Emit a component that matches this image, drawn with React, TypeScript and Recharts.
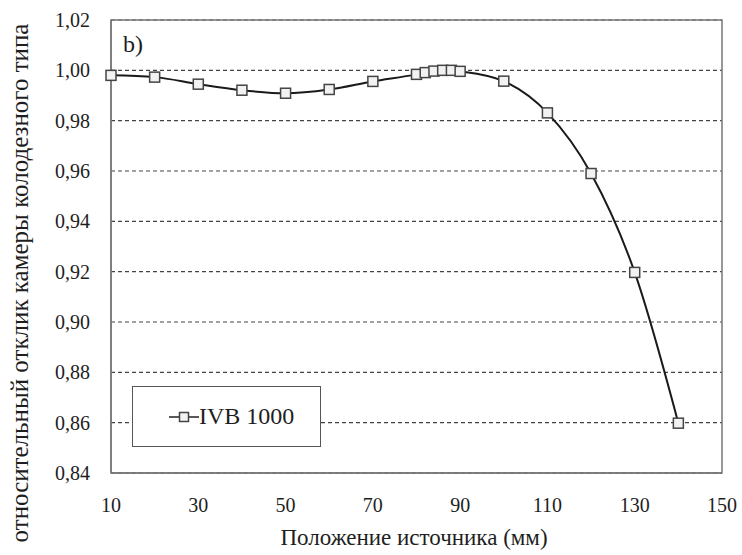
import React from 'react';
import { LineChart, Line, XAxis, YAxis, CartesianGrid, ReferenceArea, Legend, Label } from 'recharts';

const positions = [10, 20, 30, 40, 50, 60, 70, 80, 82, 84, 86, 88, 90, 100, 110, 120, 130, 140];
const responses = [0.998, 0.9973, 0.9945, 0.9921, 0.9909, 0.9924, 0.9956, 0.9984, 0.9991, 0.9997, 1.0, 1.0, 0.9996, 0.9957, 0.9831, 0.959, 0.9197, 0.8598];
const xTicks = [10, 30, 50, 70, 90, 110, 130, 150];
const yTicks = [0.84, 0.86, 0.88, 0.9, 0.92, 0.94, 0.96, 0.98, 1.0, 1.02];
const seriesName = 'IVB 1000';
const xTitle = 'Положение источника (мм)';
const yTitle = 'относительный отклик камеры колодезного типа';
const panelLabel = 'b)';

const data = positions.map((x, i) => ({ x, y: responses[i] }));

const FONT = "'Liberation Serif', 'Noto Serif', 'Nimbus Roman', 'FreeSerif', 'Tinos', 'DejaVu Serif', serif";
const TEXT = '#1e1e1e';

const SquareDot = (props: any) => {
  const { cx, cy, index } = props;
  if (cx == null || cy == null) return <g key={index} />;
  return (
    <rect key={index} x={cx - 5} y={cy - 5} width={10} height={10} fill="#f2f2f2" stroke="#444" strokeWidth={1.5} />
  );
};

const XTick = (props: any) => {
  const { x, y, payload } = props;
  return (
    <text x={x} y={y + 24} textAnchor="middle" dominantBaseline="central" style={{ fontFamily: FONT }} fontSize={20} fill={TEXT}>
      {payload.value}
    </text>
  );
};

const YTick = (props: any) => {
  const { x, y, payload } = props;
  return (
    <text x={x - 13} y={y} textAnchor="end" dominantBaseline="central" style={{ fontFamily: FONT }} fontSize={20} fill={TEXT}>
      {Number(payload.value).toFixed(2).replace('.', ',')}
    </text>
  );
};

const LegendContent = () => (
  <div style={{ display: 'flex', alignItems: 'center', height: '100%', fontFamily: FONT, fontSize: 24, color: TEXT }}>
    <svg width={30} height={14} style={{ marginLeft: 36 }}>
      <line x1={0} y1={7} x2={30} y2={7} stroke="#222" strokeWidth={1.5} />
      <rect x={10.5} y={2.5} width={9} height={9} fill="#f2f2f2" stroke="#444" strokeWidth={1.5} />
    </svg>
    <span>{seriesName}</span>
  </div>
);

export default function App() {
  return (
    <div style={{ position: 'absolute', left: 0, top: 0, width: 742, height: 555, background: '#fff', fontFamily: FONT }}>
      <LineChart width={742} height={555} data={data} margin={{ top: 20, right: 20, bottom: 0, left: 0 }} style={{ fontFamily: FONT }}>
        <CartesianGrid horizontal={true} vertical={false} stroke="#444" strokeDasharray="4 3" strokeWidth={1.2} />
        <XAxis
          dataKey="x"
          type="number"
          domain={[10, 150]}
          ticks={xTicks}
          height={82}
          tickLine={false}
          axisLine={{ stroke: '#777', strokeWidth: 1.5 }}
          tick={<XTick />}
          interval={0}
        >
          <Label
            content={() => (
              <text x={414} y={537} textAnchor="middle" dominantBaseline="central" style={{ fontFamily: FONT }} fontSize={23} fill={TEXT}>
                {xTitle}
              </text>
            )}
          />
        </XAxis>
        <YAxis
          type="number"
          domain={[0.84, 1.02]}
          ticks={yTicks}
          width={111}
          tickLine={false}
          axisLine={{ stroke: '#777', strokeWidth: 1.5 }}
          tick={<YTick />}
          interval={0}
        >
          <Label
            content={() => (
              <text x={19} y={283} transform="rotate(-90 19 283)" textAnchor="middle" dominantBaseline="central" style={{ fontFamily: FONT }} fontSize={25} fill={TEXT}>
                {yTitle}
              </text>
            )}
          />
        </YAxis>
        <ReferenceArea x1={10} x2={150} y1={0.84} y2={1.02} fill="none" stroke="#777" strokeWidth={1.5} ifOverflow="visible" />
        <Line
          type="monotone"
          dataKey="y"
          name={seriesName}
          stroke="#1a1a1a"
          strokeWidth={2}
          dot={SquareDot}
          activeDot={false}
          isAnimationActive={false}
        />
        <Legend
          layout="vertical"
          align="center"
          verticalAlign="middle"
          content={<LegendContent />}
          wrapperStyle={{ position: 'absolute', left: 132, top: 386, width: 189, height: 61, border: '1.5px solid #555', background: '#fff', boxSizing: 'border-box' }}
        />
      </LineChart>
      <div style={{ position: 'absolute', left: 123, top: 29, fontFamily: FONT, fontSize: 24, color: TEXT, lineHeight: '30px' }}>{panelLabel}</div>
    </div>
  );
}
